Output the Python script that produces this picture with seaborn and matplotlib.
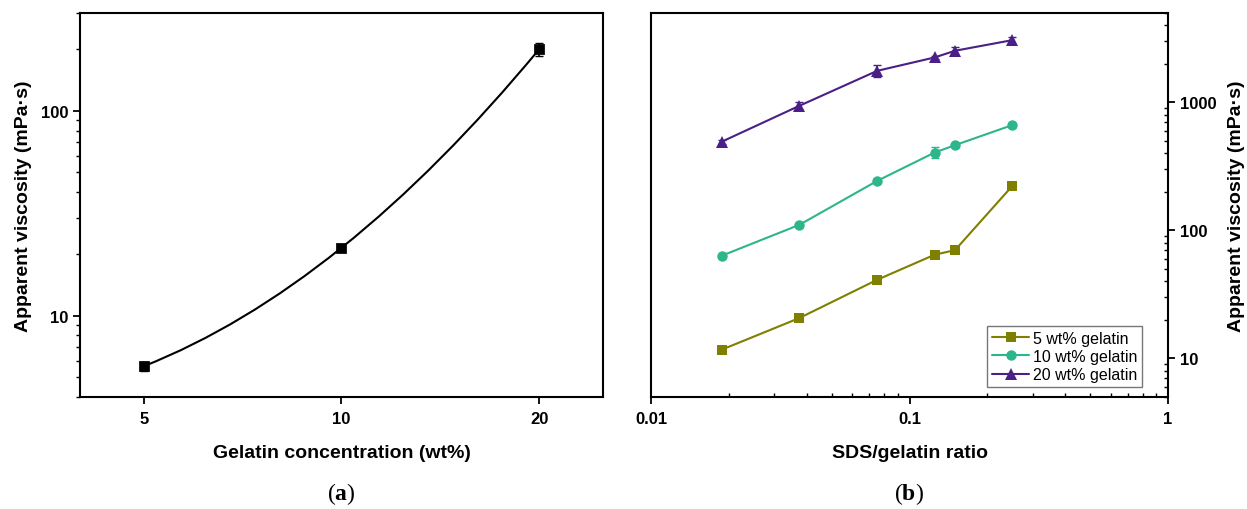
import numpy as np
import pandas as pd
import matplotlib
matplotlib.use("Agg")
import matplotlib.pyplot as plt
import seaborn as sns
from matplotlib.path import Path
from matplotlib.patches import PathPatch
from matplotlib.ticker import FixedLocator, FixedFormatter, LogLocator, NullFormatter, NullLocator

# (a) viscosity vs gelatin concentration
conc = [5, 10, 20]
visc_conc = [5.65, 21.4, 200.0]
visc_conc_err = [0.3, 0.4, 14.0]

# (b) viscosity vs SDS/gelatin ratio
ratio = [0.01875, 0.0375, 0.075, 0.125, 0.15, 0.25]
series_names = ["5 wt% gelatin", "10 wt% gelatin", "20 wt% gelatin"]
visc_5 = [11.7, 20.7, 41.2, 64.6, 70.2, 223.0]
visc_10 = [63.4, 110.7, 244.0, 406.0, 464.0, 666.0]
visc_20 = [493.0, 942.0, 1767.0, 2247.0, 2535.0, 3069.0]
err_5 = [0.5, 0.8, 1.5, 2.0, 2.0, 6.0]
err_10 = [2.0, 4.0, 8.0, 40.0, 15.0, 20.0]
err_20 = [15.0, 70.0, 200.0, 60.0, 200.0, 200.0]

colors = ["#7f7f00", "#2db58b", "#4a1f86"]
markers = ["s", "o", "^"]

sns.set_style("ticks")
plt.rcParams["font.family"] = ["Liberation Sans", "DejaVu Sans"]
plt.rcParams.update({
    "text.color": "black", "axes.labelcolor": "black",
    "xtick.color": "black", "ytick.color": "black",
    "mathtext.fontset": "custom",
    "mathtext.rm": "Liberation Serif",
    "mathtext.bf": "Liberation Serif:bold",
})

fig = plt.figure(figsize=(12.47, 5.10), dpi=100)
W, H = 1247, 510
ax1 = fig.add_axes([80 / W, (H - 398) / H, (603 - 80) / W, 384 / H])
ax2 = fig.add_axes([651 / W, (H - 398) / H, (1168 - 651) / W, 384 / H])

# ---- panel (a)
ax1.set_xscale("log")
ax1.set_yscale("log")
ax1.set_xlim(4, 25)
ax1.set_ylim(4, 300)

# smooth line: quadratic bezier in log-log space through the three points
lx = np.log10(conc)
ly = np.log10(visc_conc)
cx = 2 * lx[1] - (lx[0] + lx[2]) / 2
cy = 2 * ly[1] - (ly[0] + ly[2]) / 2
verts = [(conc[0], visc_conc[0]), (10 ** cx, 10 ** cy), (conc[2], visc_conc[2])]
curve = Path(verts, [Path.MOVETO, Path.CURVE3, Path.CURVE3])
ax1.add_patch(PathPatch(curve, fill=False, edgecolor="black", lw=1.5, zorder=2))

sns.scatterplot(x=conc, y=visc_conc, ax=ax1, marker="s", color="black",
                s=45, edgecolor="black", zorder=3, legend=False)
ax1.errorbar(conc, visc_conc, yerr=visc_conc_err, fmt="none", ecolor="black",
             elinewidth=1.2, capsize=3, zorder=3)

ax1.xaxis.set_major_locator(FixedLocator(conc))
ax1.xaxis.set_major_formatter(FixedFormatter([str(c) for c in conc]))
ax1.xaxis.set_minor_locator(NullLocator())
ax1.yaxis.set_major_locator(FixedLocator([10, 100]))
ax1.yaxis.set_major_formatter(FixedFormatter(["10", "100"]))
ax1.yaxis.set_minor_locator(LogLocator(base=10, subs=np.arange(2, 10)))
ax1.yaxis.set_minor_formatter(NullFormatter())
ax1.set_xlabel("Gelatin concentration (wt%)", fontsize=14, fontweight="bold", labelpad=13)
ax1.set_ylabel("Apparent viscosity (mPa·s)", fontsize=14, fontweight="bold", labelpad=6)

# ---- panel (b)
ax2.set_xscale("log")
ax2.set_yscale("log")
ax2.set_xlim(0.01, 1)
ax2.set_ylim(5, 5000)

df = pd.DataFrame({
    "ratio": ratio * 3,
    "visc": visc_5 + visc_10 + visc_20,
    "err": err_5 + err_10 + err_20,
    "series": [n for n in series_names for _ in ratio],
})
sns.lineplot(data=df, x="ratio", y="visc", hue="series", style="series",
             palette=colors, markers=markers, dashes=False, ax=ax2,
             lw=1.5, markersize=7.5, markeredgewidth=0, zorder=3)
for line in ax2.lines:
    if line.get_marker() == "^":
        line.set_markersize(9)
for name, c in zip(series_names, colors):
    d = df[df["series"] == name]
    ax2.errorbar(d["ratio"], d["visc"], yerr=d["err"], fmt="none", ecolor=c,
                 elinewidth=1.2, capsize=3, zorder=3)

ax2.yaxis.tick_right()
ax2.yaxis.set_label_position("right")
ax2.xaxis.set_major_locator(FixedLocator([0.01, 0.1, 1]))
ax2.xaxis.set_major_formatter(FixedFormatter(["0.01", "0.1", "1"]))
ax2.xaxis.set_minor_locator(LogLocator(base=10, subs=np.arange(2, 10)))
ax2.xaxis.set_minor_formatter(NullFormatter())
ax2.yaxis.set_major_locator(FixedLocator([10, 100, 1000]))
ax2.yaxis.set_major_formatter(FixedFormatter(["10", "100", "1000"]))
ax2.yaxis.set_minor_locator(LogLocator(base=10, subs=np.arange(2, 10)))
ax2.yaxis.set_minor_formatter(NullFormatter())
ax2.set_xlabel("SDS/gelatin ratio", fontsize=14, fontweight="bold", labelpad=13)
ax2.set_ylabel("Apparent viscosity (mPa·s)", fontsize=14, fontweight="bold", labelpad=8)

leg = ax2.legend(loc="lower right", bbox_to_anchor=(0.95, 0.026), borderaxespad=0,
                 fontsize=11.5, handlelength=2.3, handletextpad=0.25,
                 labelspacing=0.2, borderpad=0.3, fancybox=False, framealpha=1)
leg.get_frame().set_edgecolor("#777777")
leg.get_frame().set_linewidth(1.0)
for h in leg.legend_handles:
    if h.get_marker() == "^":
        h.set_markersize(9)

for ax in (ax1, ax2):
    for s in ax.spines.values():
        s.set_visible(True)
        s.set_linewidth(1.5)
        s.set_color("black")
    ax.tick_params(which="major", length=5, width=1.3, labelsize=12, direction="out")
    ax.tick_params(which="minor", length=3, width=1.0, direction="out")
    for lab in ax.get_xticklabels() + ax.get_yticklabels():
        lab.set_fontweight("bold")
ax2.tick_params(which="minor", direction="in")
ax1.tick_params(axis="x", pad=5)
ax2.tick_params(axis="x", pad=5)

fig.text(341 / W, 1 - 494 / H, r"($\mathbf{a}$)", fontsize=17,
         family="Liberation Serif", ha="center", va="center")
fig.text(909 / W, 1 - 494 / H, r"($\mathbf{b}$)", fontsize=17,
         family="Liberation Serif", ha="center", va="center")

fig.savefig("out.png", dpi=100)
